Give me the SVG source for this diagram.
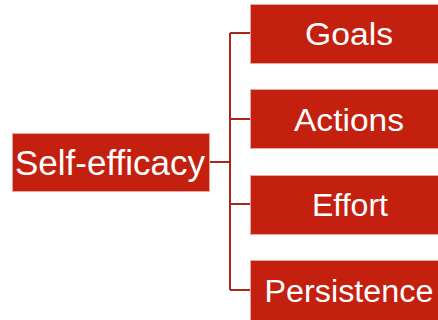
<svg xmlns="http://www.w3.org/2000/svg" width="438" height="320" viewBox="0 0 438 320">
  <style>
    .box { fill: #C4200F; stroke: #EBA89F; stroke-width: 1; }
    .lbl { fill: #FFFFFF; font-family: "Liberation Sans", Arial, sans-serif; text-anchor: middle; }
    .conn { fill: none; stroke: #A9261C; stroke-width: 2; }
  </style>
  <rect width="438" height="320" fill="#FFFFFF"/>
  <g id="connectors">
    <path class="conn" d="M210 162 H230"/>
    <path class="conn" d="M230 33 V290"/>
    <path class="conn" d="M230 33 H250"/>
    <path class="conn" d="M230 119 H250"/>
    <path class="conn" d="M230 204 H250"/>
    <path class="conn" d="M230 290 H250"/>
  </g>
  <g id="self-efficacy">
    <rect class="box" x="12.5" y="133.5" width="197" height="58"/>
    <text class="lbl" x="110" y="175" font-size="35" textLength="190" lengthAdjust="spacingAndGlyphs">Self-efficacy</text>
  </g>
  <g id="goals">
    <rect class="box" x="250.5" y="4.5" width="200" height="59"/>
    <text class="lbl" x="349" y="45" font-size="31" textLength="88" lengthAdjust="spacingAndGlyphs">Goals</text>
  </g>
  <g id="actions">
    <rect class="box" x="250.5" y="89.5" width="200" height="59"/>
    <text class="lbl" x="349" y="131" font-size="31" textLength="110" lengthAdjust="spacingAndGlyphs">Actions</text>
  </g>
  <g id="effort">
    <rect class="box" x="250.5" y="175.5" width="200" height="59"/>
    <text class="lbl" x="350" y="216" font-size="31" textLength="76" lengthAdjust="spacingAndGlyphs">Effort</text>
  </g>
  <g id="persistence">
    <rect class="box" x="250.5" y="260.5" width="200" height="70"/>
    <text class="lbl" x="349" y="302" font-size="31" textLength="169" lengthAdjust="spacingAndGlyphs">Persistence</text>
  </g>
</svg>
